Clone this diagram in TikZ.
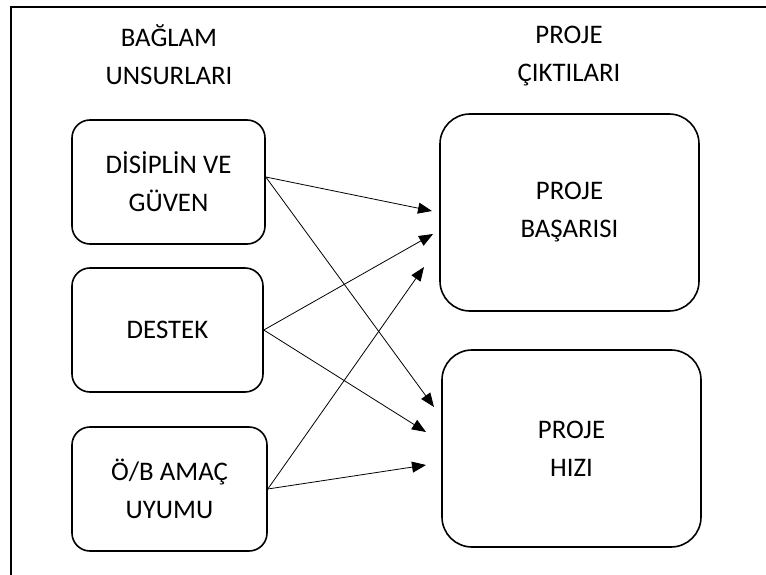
\documentclass[tikz,border=0pt]{standalone}
\usepackage{fontspec}
\setmainfont{Carlito}
\usetikzlibrary{arrows.meta}
\begin{document}
\begin{tikzpicture}[x=1bp,y=-1bp,
  every node/.style={font=\fontsize{26.8bp}{38bp}\selectfont, align=center, inner sep=0pt},
  lbox/.style={draw, line width=1.6bp, rounded corners=18bp, minimum width=193bp, minimum height=124bp},
  rbox/.style={draw, line width=1.6bp, rounded corners=30bp, minimum width=259bp, minimum height=197bp},
  conn/.style={line width=0.8bp, -{Triangle[length=14bp,width=11bp]}}]
\useasboundingbox (0,0) rectangle (766,575);
\draw[line width=2bp] (11,590) -- (11,7) -- (780,7);
\node (h1) at (169,55) {BAĞLAM\\UNSURLARI};
\node (h2) at (569,56) {PROJE\\ÇIKTILARI};
\node[lbox] (b1) at (168.5,182) {DİSİPLİN VE\\GÜVEN};
\node[lbox, minimum width=191bp] (b2) at (167.5,330) {DESTEK};
\node[lbox, minimum width=195bp] (b3) at (169.5,489) {Ö/B AMAÇ\\UYUMU};
\node[rbox] (r1) at (569.5,212.5) {PROJE\\BAŞARISI};
\node[rbox] (r2) at (571.5,448.5) {PROJE\\HIZI};
\coordinate (t1) at (432,211);
\coordinate (t2) at (434,407);
\coordinate (t3) at (433,234);
\coordinate (t4) at (426,432);
\coordinate (t5) at (424,267);
\coordinate (t6) at (426,465);
\draw[conn] ([yshift=5bp]b1.east) -- (t1);
\draw[conn] ([yshift=5bp]b1.east) -- (t2);
\draw[conn] (b2.east) -- (t3);
\draw[conn] (b2.east) -- (t4);
\draw[conn] (b3.east) -- (t5);
\draw[conn] (b3.east) -- (t6);
\end{tikzpicture}
\end{document}
